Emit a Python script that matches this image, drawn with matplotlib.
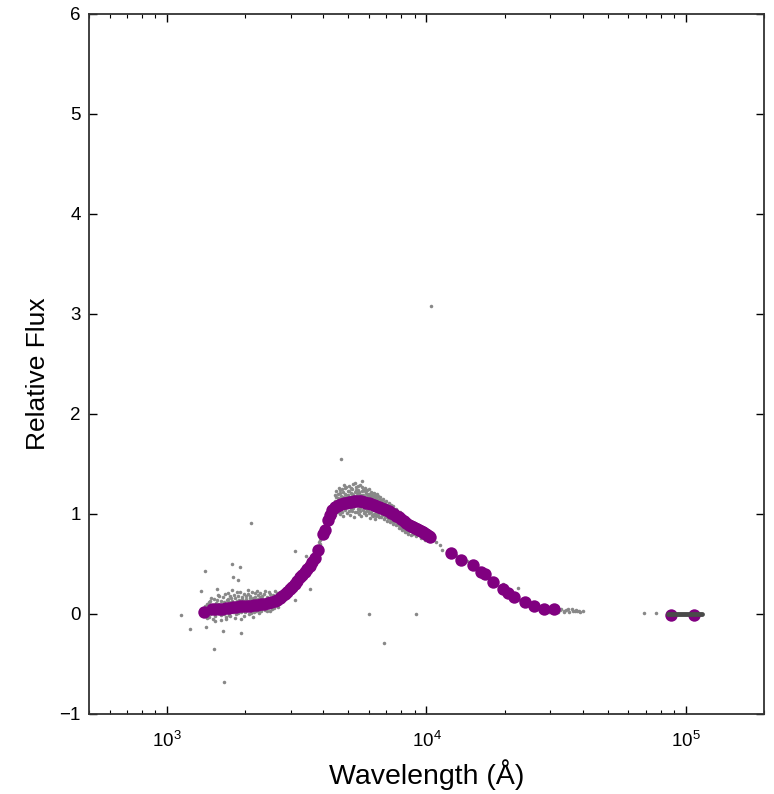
import matplotlib
matplotlib.use("Agg")
import matplotlib.pyplot as plt

plt.rcParams['font.family'] = ['Liberation Sans', 'DejaVu Sans']

# Binned (purple) points: wavelength (Angstrom), relative flux
bin_wl = [1388, 1490, 1536, 1585, 1635, 1686, 1738, 1794, 1850, 1909, 1969, 2031,
          2095, 2161, 2229, 2299, 2372, 2446, 2524, 2603, 2660, 2720, 2781, 2843,
          2906, 2972, 3039, 3107, 3176, 3247, 3320, 3394, 3471, 3548, 3628, 3709,
          3808, 3981, 4052, 4161, 4236, 4311, 4428, 4506, 4587, 4690, 4795, 4903,
          5012, 5125, 5240, 5357, 5477, 5600, 5724, 5852, 5983, 6117, 6255, 6395,
          6538, 6684, 6833, 6987, 7143, 7303, 7466, 7634, 7804, 7979, 8157, 8340,
          8527, 8678, 8834, 8991, 9152, 9316, 9482, 9652, 9824, 9957, 10089, 10225,
          10361,
          12479, 13635, 15165, 16276, 16863, 18100, 19782, 20680, 21804, 24034,
          26028, 28436, 31066, 87575, 107350]
bin_flux = [0.02, 0.05, 0.05, 0.05, 0.055, 0.06, 0.065, 0.07, 0.075, 0.08, 0.08, 0.08,
            0.085, 0.09, 0.095, 0.10, 0.105, 0.11, 0.12, 0.13, 0.145, 0.16, 0.18, 0.20,
            0.225, 0.25, 0.275, 0.30, 0.335, 0.37, 0.395, 0.42, 0.45, 0.48, 0.52, 0.56,
            0.64, 0.80, 0.84, 0.94, 0.99, 1.04, 1.07, 1.08, 1.09, 1.10, 1.11, 1.115,
            1.12, 1.125, 1.13, 1.13, 1.13, 1.13, 1.12, 1.115, 1.11, 1.10, 1.09, 1.08,
            1.07, 1.06, 1.05, 1.04, 1.03, 1.015, 1.00, 0.985, 0.97, 0.95, 0.93, 0.91,
            0.89, 0.88, 0.87, 0.86, 0.85, 0.84, 0.83, 0.82, 0.81, 0.80, 0.79, 0.78,
            0.77,
            0.61, 0.54, 0.49, 0.42, 0.40, 0.32, 0.25, 0.21, 0.17, 0.12,
            0.08, 0.05, 0.05, -0.01, -0.01]

# Long-wavelength segment (dark line)
seg_wl = [85000, 115000]
seg_flux = [0.0, 0.0]

# Individual (gray) spectral points
gray_pts = [
    (1360, 0.04), (1380, -0.01), (1395, 0.08), (1410, 0.00), (1420, 0.10), (1440, 0.05),
    (1450, -0.03), (1465, 0.13), (1475, 0.02), (1490, 0.08), (1500, -0.05),
    (1510, 0.15), (1520, 0.03), (1535, -0.02), (1545, 0.11), (1560, 0.07), (1570, 0.19),
    (1585, 0.01), (1595, 0.09), (1610, -0.06), (1620, 0.13), (1635, 0.04), (1645, 0.17),
    (1660, 0.00), (1670, 0.10), (1685, -0.03), (1695, 0.14),
    (1710, 0.21), (1720, 0.05), (1735, 0.12), (1750, -0.02), (1765, 0.16), (1780, 0.03),
    (1790, 0.09), (1805, 0.19), (1820, -0.04), (1835, 0.11), (1850, 0.06), (1865, 0.22),
    (1880, 0.01), (1895, 0.14), (1910, 0.08), (1925, -0.05), (1940, 0.17), (1955, 0.04),
    (1970, 0.12), (1985, 0.20),
    (2000, 0.02), (2015, 0.15), (2030, 0.07), (2045, 0.24), (2060, 0.00), (2075, 0.13),
    (2090, 0.18), (2105, 0.04), (2120, 0.11), (2135, -0.03), (2150, 0.16), (2165, 0.09),
    (2180, 0.21), (2195, 0.03), (2210, 0.14), (2225, 0.06), (2240, 0.19), (2255, 0.01),
    (2270, 0.12), (2285, 0.17),
    (2300, 0.05), (2320, 0.15), (2340, 0.08), (2360, 0.20), (2380, 0.04), (2400, 0.13),
    (2420, 0.17), (2440, 0.07), (2460, 0.22), (2480, 0.10), (2500, 0.03), (2520, 0.16),
    (2540, 0.12), (2560, 0.19), (2580, 0.06), (2600, 0.14), (2620, 0.18), (2640, 0.09),
    (2660, 0.21), (2680, 0.11),
    (2700, 0.12), (2720, 0.20), (2745, 0.15), (2770, 0.23), (2790, 0.14), (2810, 0.22),
    (2835, 0.17), (2860, 0.26), (2880, 0.19), (2900, 0.28), (2925, 0.21), (2950, 0.30),
    (2975, 0.22), (3000, 0.32), (3025, 0.24), (3050, 0.34), (3075, 0.26), (3100, 0.35),
    (3120, 0.27), (3150, 0.37), (3175, 0.30), (3200, 0.40), (3225, 0.31), (3250, 0.41),
    (3280, 0.34), (3310, 0.45), (3340, 0.37), (3370, 0.47), (3400, 0.39), (3430, 0.50),
    (3460, 0.42), (3490, 0.53), (3520, 0.44), (3550, 0.55), (3580, 0.47), (3610, 0.58),
    (3640, 0.50), (3670, 0.61), (3700, 0.53), (3730, 0.62), (3760, 0.56), (3790, 0.67),
    (3830, 0.62), (3860, 0.72), (3900, 0.70), (3940, 0.80), (3980, 0.77), (4020, 0.86),
    (4060, 0.82), (4100, 0.93), (4140, 0.90), (4180, 0.99), (4220, 0.96), (4260, 1.06),
    (4300, 1.00), (4340, 1.10), (4380, 1.03),
    (4420, 1.13), (4450, 0.99), (4480, 1.17), (4510, 1.05), (4540, 1.20), (4570, 1.02),
    (4600, 1.15), (4630, 1.24), (4660, 1.00), (4690, 1.18), (4720, 1.08), (4750, 1.22),
    (4780, 0.98), (4810, 1.16), (4840, 1.26), (4870, 1.04), (4900, 1.19), (4930, 1.01),
    (4960, 1.23), (4990, 1.07), (5020, 1.28), (5050, 0.99), (5080, 1.17), (5110, 1.21),
    (5140, 1.03), (5170, 1.25), (5200, 1.06), (5230, 1.19), (5260, 0.97), (5290, 1.22),
    (5320, 1.09), (5350, 1.27), (5380, 1.02), (5410, 1.18), (5440, 1.24), (5470, 1.00),
    (5500, 1.20), (5530, 1.06), (5560, 1.29), (5590, 0.98), (5620, 1.16), (5650, 1.23),
    (5680, 1.04), (5710, 1.19), (5740, 1.01), (5770, 1.26), (5800, 1.08), (5830, 1.21),
    (5860, 0.99), (5890, 1.17), (5920, 1.24), (5950, 1.03), (5980, 1.20), (6010, 1.06),
    (6040, 1.15), (6070, 0.96), (6100, 1.22), (6130, 1.02), (6160, 1.18), (6190, 1.11),
    (6220, 0.98), (6250, 1.21), (6280, 1.04), (6310, 1.16), (6340, 0.95), (6370, 1.19),
    (6400, 1.01), (6430, 1.14), (6460, 1.20), (6490, 0.99), (6520, 1.13), (6550, 1.03),
    (6600, 1.17), (6650, 0.97), (6700, 1.12), (6750, 1.01), (6800, 1.15), (6850, 0.95),
    (6900, 1.10), (6950, 1.00), (7000, 1.13), (7050, 0.93), (7100, 1.08), (7150, 0.98),
    (7200, 1.11), (7250, 0.92), (7300, 1.06), (7350, 0.96), (7400, 1.08), (7450, 0.90),
    (7500, 1.04), (7550, 0.94), (7600, 1.05), (7650, 0.89), (7700, 1.02), (7750, 0.91),
    (7800, 1.01), (7850, 0.86), (7900, 0.99), (7950, 0.88), (8000, 0.98), (8050, 0.84),
    (8100, 0.96), (8150, 0.87), (8200, 0.93), (8250, 0.82), (8300, 0.95), (8350, 0.85),
    (8400, 0.92), (8450, 0.80), (8500, 0.90), (8550, 0.83), (8600, 0.91), (8700, 0.79),
    (8800, 0.89), (8900, 0.81), (9000, 0.88), (9100, 0.78), (9200, 0.86), (9300, 0.80),
    (9400, 0.87), (9500, 0.76), (9600, 0.84), (9700, 0.78), (9800, 0.85), (9900, 0.74),
    (10000, 0.82), (10100, 0.75), (10200, 0.80), (10300, 0.73), (10400, 0.78), (10500, 0.74),
    (10900, 0.72), (11300, 0.69), (11500, 0.64), (12200, 0.63), (12700, 0.58), (13000, 0.59),
    (13400, 0.56), (13900, 0.52), (14300, 0.53), (14800, 0.50), (15500, 0.47), (15900, 0.44),
    (16500, 0.43), (17300, 0.38), (17700, 0.36), (18500, 0.32), (19300, 0.27), (19700, 0.30),
    (20300, 0.23), (21000, 0.21), (21500, 0.16), (22300, 0.15), (22600, 0.26), (23000, 0.14),
    (23600, 0.11), (24500, 0.10), (25200, 0.09), (25600, 0.06), (26700, 0.06), (27300, 0.03),
    (28000, 0.07), (29000, 0.04), (29700, 0.02), (30500, 0.07), (31500, 0.04), (32200, 0.02),
    (33000, 0.05), (33800, 0.03), (34500, 0.04), (35500, 0.02), (36300, 0.05), (37200, 0.03),
    (38100, 0.03), (39000, 0.02),
    (68900, 0.01), (76700, 0.01),
    (10450, 3.08), (4670, 1.55), (5300, 1.31), (5650, 1.33), (2100, 0.91),
    (1660, -0.68), (1515, -0.35), (1130, -0.01), (1225, -0.15), (1410, -0.13),
    (1640, -0.17), (1925, -0.19), (1780, 0.50), (1910, 0.47), (1400, 0.43),
    (1795, 0.37), (1875, 0.34), (1350, 0.23), (1560, 0.25),
    (5980, 0.00), (9080, 0.00), (6830, -0.29),
    (3110, 0.63), (3430, 0.58), (3548, 0.25), (3107, 0.14),
    # second pass over the dense band
    (1405, 0.06), (1425, -0.04), (1445, 0.12), (1460, 0.00), (1482, 0.16), (1497, 0.03),
    (1515, 0.09), (1528, -0.07), (1552, 0.14), (1566, 0.02), (1578, 0.10), (1592, 0.18),
    (1603, 0.05), (1615, -0.01), (1628, 0.09), (1652, 0.12), (1665, 0.20), (1678, 0.06),
    (1690, -0.05), (1703, 0.09), (1716, 0.15), (1728, -0.01), (1742, 0.18), (1758, 0.08),
    (1772, 0.13), (1786, 0.24), (1798, 0.02), (1812, 0.10), (1828, 0.16), (1842, 0.00),
    (1858, 0.13), (1872, 0.18), (1888, 0.06), (1902, 0.22), (1918, 0.11), (1932, 0.02),
    (1948, 0.15), (1962, 0.09), (1978, -0.02), (1992, 0.13), (2008, 0.18), (2022, 0.04),
    (2038, 0.12), (2052, 0.20), (2068, 0.06), (2082, 0.16), (2098, 0.01), (2112, 0.14),
    (2128, 0.22), (2142, 0.07), (2158, 0.12), (2172, 0.02), (2188, 0.17), (2202, 0.10),
    (2218, 0.23), (2232, 0.04), (2248, 0.15), (2262, 0.08), (2278, 0.21), (2292, 0.03),
    (2310, 0.11), (2330, 0.18), (2350, 0.06), (2370, 0.14), (2390, 0.23), (2410, 0.09),
    (2430, 0.03), (2450, 0.16), (2470, 0.13), (2490, 0.20), (2510, 0.08), (2530, 0.05),
    (2550, 0.17), (2570, 0.14), (2590, 0.09), (2610, 0.23), (2630, 0.12), (2650, 0.16),
    (2670, 0.07), (2690, 0.19),
    (2710, 0.16), (2732, 0.11), (2758, 0.19), (2782, 0.18), (2800, 0.13), (2822, 0.24),
    (2848, 0.21), (2870, 0.17), (2892, 0.26), (2912, 0.25), (2938, 0.19), (2962, 0.27),
    (2988, 0.29), (3012, 0.26), (3038, 0.28), (3062, 0.33), (3088, 0.31), (3138, 0.32),
    (3162, 0.36), (3188, 0.34), (3212, 0.37), (3238, 0.36), (3265, 0.38), (3295, 0.40),
    (3325, 0.42), (3355, 0.41), (3385, 0.44), (3415, 0.46), (3445, 0.45), (3475, 0.48),
    (3505, 0.50), (3535, 0.49), (3565, 0.52), (3595, 0.54), (3625, 0.53), (3655, 0.57),
    (3685, 0.59), (3715, 0.58), (3745, 0.60), (3775, 0.64), (3810, 0.66), (3845, 0.68),
    (3880, 0.74), (3920, 0.76), (3960, 0.78), (4000, 0.82), (4040, 0.84), (4080, 0.88),
    (4120, 0.92), (4160, 0.94), (4200, 0.98), (4240, 1.00), (4280, 1.03), (4320, 1.05),
    (4360, 1.07), (4400, 1.06),
    (4435, 1.19), (4465, 1.09), (4495, 1.23), (4525, 1.12), (4555, 1.16), (4585, 1.26),
    (4615, 1.03), (4645, 1.21), (4675, 1.12), (4705, 1.25), (4735, 1.02), (4765, 1.17),
    (4795, 1.29), (4825, 1.06), (4855, 1.20), (4885, 1.14), (4915, 1.27), (4945, 1.09),
    (4975, 1.19), (5005, 1.03), (5035, 1.23), (5065, 1.11), (5095, 1.26), (5125, 1.05),
    (5155, 1.20), (5185, 1.14), (5215, 1.30), (5245, 1.08), (5275, 1.17), (5305, 1.02),
    (5335, 1.24), (5365, 1.12), (5395, 1.21), (5425, 1.05), (5455, 1.28), (5485, 1.15),
    (5515, 1.22), (5545, 1.03), (5575, 1.19), (5605, 1.09), (5635, 1.27), (5665, 1.12),
    (5695, 1.24), (5725, 1.06), (5755, 1.18), (5785, 1.02), (5815, 1.23), (5845, 1.14),
    (5875, 1.20), (5905, 1.04), (5935, 1.17), (5965, 1.10), (5995, 1.25), (6025, 1.01),
    (6055, 1.19), (6085, 1.12), (6115, 1.16), (6145, 0.99), (6175, 1.21), (6205, 1.07),
    (6235, 1.15), (6265, 1.00), (6295, 1.18), (6325, 1.10), (6355, 1.13), (6385, 0.98),
    (6415, 1.16), (6445, 1.05), (6475, 1.12), (6505, 1.18), (6535, 0.97), (6565, 1.15),
    (6625, 1.07), (6675, 1.14), (6725, 0.99), (6775, 1.09), (6825, 1.03), (6875, 1.12),
    (6925, 0.97), (6975, 1.06), (7025, 1.09), (7075, 0.96), (7125, 1.04), (7175, 1.08),
    (7225, 0.95), (7275, 1.02), (7325, 1.09), (7375, 0.93), (7425, 1.00), (7475, 1.05),
    (7525, 0.92), (7575, 0.98), (7625, 1.03), (7675, 0.90), (7725, 0.97), (7775, 1.00),
    (7825, 0.89), (7875, 0.95), (7925, 1.02), (7975, 0.86), (8025, 0.93), (8075, 0.97),
    (8125, 0.85), (8175, 0.91), (8225, 0.95), (8275, 0.84), (8325, 0.90), (8375, 0.93),
    (8425, 0.82), (8475, 0.87), (8525, 0.94), (8650, 0.84), (8750, 0.91), (8850, 0.80),
    (8950, 0.86), (9050, 0.91), (9150, 0.82), (9250, 0.84), (9350, 0.89), (9450, 0.79),
    (9550, 0.82), (9650, 0.86), (9750, 0.76), (9850, 0.80), (9950, 0.84), (10050, 0.77),
    (10150, 0.79), (10250, 0.76), (10350, 0.80), (10450, 0.75), (10550, 0.77),
    (12300, 0.60), (12650, 0.62), (13450, 0.55), (13800, 0.57), (15000, 0.51), (15300, 0.48),
    (16100, 0.43), (16600, 0.41), (17000, 0.39), (17900, 0.34), (18300, 0.31), (19500, 0.26),
    (20000, 0.24), (20900, 0.20), (21600, 0.19), (22000, 0.18), (23800, 0.12), (24300, 0.13),
    (25800, 0.09), (26300, 0.07), (28200, 0.05), (28700, 0.06), (30800, 0.05), (31300, 0.06),
    (32600, 0.04), (34000, 0.02), (35000, 0.05), (36800, 0.03), (37700, 0.04), (38600, 0.03),
    (40000, 0.03),
]
gray_wl = [p[0] for p in gray_pts]
gray_flux = [p[1] for p in gray_pts]

fig = plt.figure(figsize=(7.74, 7.94), dpi=100)
ax = fig.add_axes([89/774, 1 - 714/794, (764 - 89)/774, (714 - 14)/794])

ax.scatter(gray_wl, gray_flux, s=6.5, color='#888888', linewidths=0, zorder=2)
ax.scatter(bin_wl, bin_flux, s=80, color='#800080', linewidths=0, zorder=3)
ax.plot(seg_wl, seg_flux, color='#4a4a4a', lw=3.5, zorder=4, solid_capstyle='round')

ax.set_xscale('log')
ax.set_xlim(500, 2e5)
ax.set_ylim(-1, 6)
ax.set_yticks(range(-1, 7))

ax.tick_params(which='both', direction='in', top=True, right=True, labelsize=13.5)
ax.tick_params(which='major', length=6, width=1)
ax.tick_params(which='minor', length=3, width=0.8)
ax.tick_params(axis='x', pad=12)
ax.tick_params(axis='y', pad=6)
for s in ax.spines.values():
    s.set_linewidth(1.3)
    s.set_color('#333333')

ax.set_xlabel('Wavelength (Å)', fontsize=20.5, labelpad=6)
ax.set_ylabel('Relative Flux', fontsize=19)
ax.yaxis.set_label_coords(-0.058, 0.486)

fig.savefig('out.png', dpi=100)
